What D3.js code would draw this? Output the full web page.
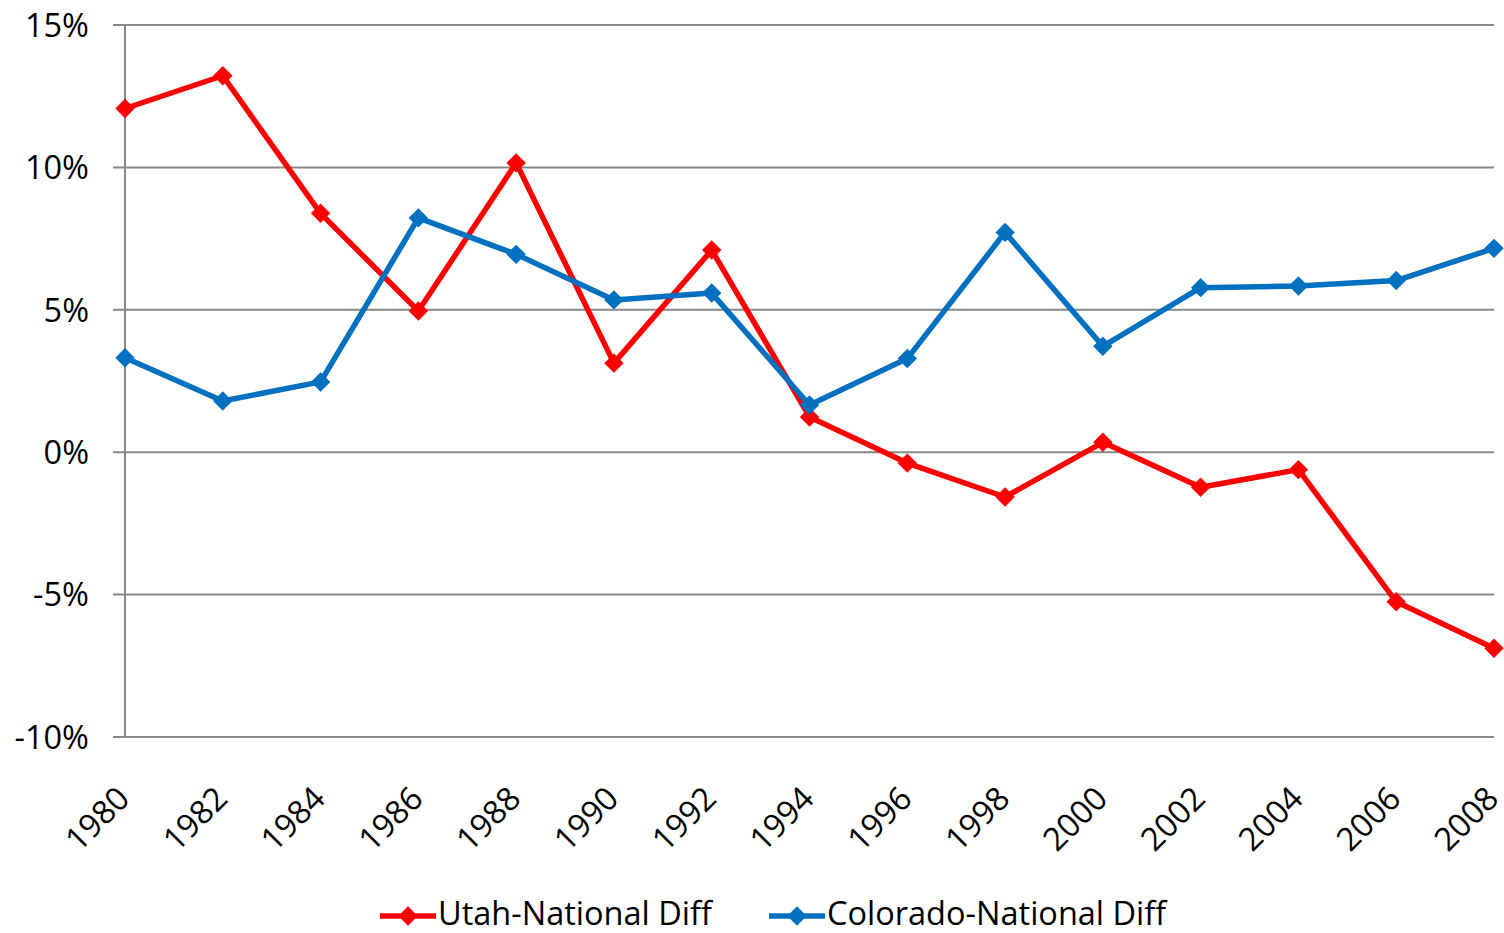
<!DOCTYPE html>
<html>
<head>
<meta charset="utf-8">
<script src="https://cdn.jsdelivr.net/npm/d3@7"></script>
<style>
  html, body { margin: 0; padding: 0; background: #fff; }
  svg { display: block; }
  text { font-family: "Open Sans", "Liberation Sans", sans-serif; fill: #000; }
</style>
</head>
<body>
<svg id="chart" width="1504" height="933"></svg>
<script>
const years = ["1980","1982","1984","1986","1988","1990","1992","1994","1996","1998","2000","2002","2004","2006","2008"];
const utah = [12.05, 13.2, 8.37, 4.94, 10.14, 3.11, 7.08, 1.22, -0.40, -1.59, 0.33, -1.25, -0.63, -5.27, -6.9];
const colorado = [3.3, 1.78, 2.45, 8.21, 6.93, 5.33, 5.57, 1.64, 3.27, 7.7, 3.7, 5.76, 5.82, 6.01, 7.14];
const yTicks = [-10, -5, 0, 5, 10, 15];
const seriesNames = ["Utah-National Diff", "Colorado-National Diff"];
const seriesColors = ["#FF0000", "#0070C0"];

(function () {
const svg = d3.select("#chart");
const pLeft = 125, pRight = 1494, pTop = 24.5, pBottom = 736.5;
const fs = 32.5;

const x = d3.scalePoint().domain(years).range([pLeft, pRight]);
const y = d3.scaleLinear().domain([-10, 15]).range([pBottom, pTop]);

// gridlines + y ticks
const yAxis = d3.axisLeft(y).tickValues(yTicks).tickSize(-(pRight - pLeft)).tickFormat(d => d + "%");
const gy = svg.append("g").attr("transform", `translate(${pLeft},0)`).call(yAxis);
gy.select(".domain").remove();
gy.selectAll(".tick line").attr("x1", -12).attr("stroke", "#888").attr("stroke-width", 2);
gy.selectAll(".tick text").attr("font-size", fs).attr("x", -36).attr("dy", "0.36em")
  .style("font-family", '"Open Sans", sans-serif').attr("fill", "#000");

// vertical axis line
svg.append("line").attr("x1", pLeft).attr("x2", pLeft).attr("y1", pTop).attr("y2", pBottom)
  .attr("stroke", "#888").attr("stroke-width", 2);

// x labels
const xAxis = d3.axisBottom(x).tickSize(0).tickPadding(0);
const gx = svg.append("g").attr("transform", `translate(0,${pBottom})`).call(xAxis);
gx.select(".domain").remove();
gx.selectAll(".tick text")
  .attr("font-size", fs)
  .style("font-family", '"Open Sans", sans-serif')
  .attr("fill", "#000")
  .attr("text-anchor", "end")
  .attr("dy", null)
  .attr("y", 0)
  .attr("transform", "translate(6,64) rotate(-45)");

// series
const diamond = d3.symbol().type(d3.symbolDiamond2).size(240);
const allSeries = [utah, colorado];
allSeries.forEach((vals, i) => {
  const line = d3.line().x((d, j) => x(years[j])).y(d => y(d));
  svg.append("path").datum(vals).attr("d", line)
    .attr("fill", "none").attr("stroke", seriesColors[i]).attr("stroke-width", 5.5)
    .attr("stroke-linejoin", "round");
  svg.append("g").selectAll("path").data(vals).join("path")
    .attr("d", diamond)
    .attr("transform", (d, j) => `translate(${x(years[j])},${y(d)})`)
    .attr("fill", seriesColors[i]);
});

// legend
const ly = 913;
const legendItems = [{x: 380, tx: 438}, {x: 769, tx: 827}];
legendItems.forEach((it, i) => {
  const g = svg.append("g");
  g.append("line").attr("x1", it.x).attr("x2", it.x + 56).attr("y1", ly + 3).attr("y2", ly + 3)
    .attr("stroke", seriesColors[i]).attr("stroke-width", 5.5);
  g.append("path").attr("d", diamond).attr("transform", `translate(${it.x + 28},${ly + 3})`).attr("fill", seriesColors[i]);
  g.append("text").attr("x", it.tx).attr("y", ly).attr("dy", "0.36em").attr("font-size", fs)
    .text(seriesNames[i]);
});
})();
</script>
</body>
</html>
